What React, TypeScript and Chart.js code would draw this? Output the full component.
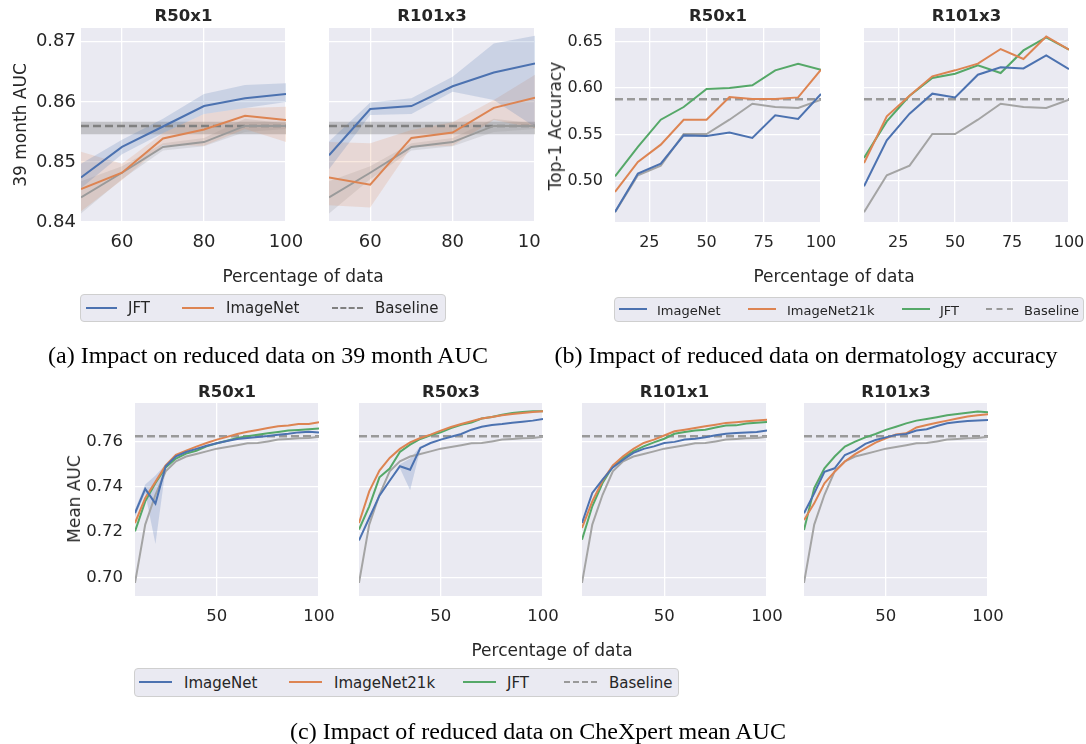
import React, { useEffect, useRef } from 'react';
import { Chart, registerables } from 'chart.js';
Chart.register(...registerables);

const BLUE = '#4c72b0';
const ORANGE = '#dd8452';
const GREEN = '#55a868';
const GRAY = '#a4a4a4';
const TXT = '#262626';
const FONT = '"DejaVu Sans", sans-serif';

// ---------- (a) 39 month AUC ----------
const aX = [50, 60, 70, 80, 90, 100];
const aXTicks = [60, 80, 100];
const aYTicks = [0.84, 0.85, 0.86, 0.87];
const aBaseline = 0.856;
const aBaselineHi = 0.8567;
const aBaselineLo = 0.8546;
const aScratch = [0.8441, 0.8482, 0.8525, 0.8533, 0.856, 0.856];
const aScratchHi = [0.8468, 0.8493, 0.8531, 0.854, 0.8572, 0.8564];
const aScratchLo = [0.8414, 0.8471, 0.8519, 0.8526, 0.855, 0.8555];
const aR50JFT = [0.8474, 0.8525, 0.8559, 0.8593, 0.8606, 0.8613];
const aR50JFTHi = [0.8497, 0.8537, 0.8572, 0.8613, 0.8628, 0.8631];
const aR50JFTLo = [0.8456, 0.8513, 0.8548, 0.858, 0.859, 0.86];
const aR50IN = [0.8455, 0.8482, 0.8539, 0.8554, 0.8577, 0.857];
const aR50INHi = [0.8517, 0.8497, 0.8548, 0.858, 0.859, 0.8592];
const aR50INLo = [0.8418, 0.847, 0.8528, 0.8527, 0.8555, 0.8533];
const aR101JFT = [0.8511, 0.8588, 0.8593, 0.8626, 0.8649, 0.8664];
const aR101JFTHi = [0.8534, 0.8599, 0.8606, 0.8642, 0.8697, 0.871];
const aR101JFTLo = [0.8488, 0.8578, 0.858, 0.8617, 0.8603, 0.8558];
const aR101IN = [0.8474, 0.8462, 0.854, 0.8549, 0.859, 0.8607];
const aR101INHi = [0.8533, 0.8531, 0.8553, 0.8566, 0.8603, 0.8645];
const aR101INLo = [0.8428, 0.8424, 0.8525, 0.8527, 0.857, 0.8556];

// ---------- (b) dermatology top-1 accuracy ----------
const bX = [10, 20, 30, 40, 50, 60, 70, 80, 90, 100];
const bXTicks = [25, 50, 75, 100];
const bYTicks = [0.5, 0.55, 0.6, 0.65];
const bBaseline = 0.588;
const bScratch = [0.466, 0.5058, 0.5162, 0.5504, 0.5504, 0.5658, 0.5831, 0.5795, 0.5784, 0.5874];
const bR50IN = [0.4662, 0.5076, 0.5183, 0.5489, 0.5482, 0.5521, 0.5461, 0.5705, 0.5666, 0.5936];
const bR50IN21k = [0.4878, 0.5202, 0.5389, 0.5658, 0.5658, 0.5903, 0.5882, 0.5882, 0.5899, 0.6198];
const bR50JFT = [0.5047, 0.5364, 0.5658, 0.5795, 0.5989, 0.6, 0.6029, 0.6191, 0.6263, 0.6198];
const bR101IN = [0.4939, 0.5435, 0.5723, 0.5939, 0.5899, 0.6144, 0.6223, 0.6212, 0.6352, 0.6205];
const bR101IN21k = [0.5191, 0.5694, 0.5917, 0.6126, 0.6191, 0.6263, 0.6421, 0.6313, 0.6557, 0.6414];
const bR101JFT = [0.5245, 0.564, 0.5917, 0.6108, 0.6155, 0.6245, 0.6162, 0.6406, 0.6546, 0.6414];

// ---------- (c) CheXpert mean AUC ----------
const cX = [10, 15, 20, 25, 30, 35, 40, 45, 50, 55, 60, 65, 70, 75, 80, 85, 90, 95, 100];
const cXTicks = [50, 100];
const cYTicks = [0.7, 0.72, 0.74, 0.76];
const cBaseline = 0.7624;
const cScratch = [0.6975, 0.7233, 0.7365, 0.7469, 0.7513, 0.7534, 0.7545, 0.7557, 0.7569, 0.7576, 0.7584, 0.7593, 0.7594, 0.7601, 0.7609, 0.7612, 0.7615, 0.7616, 0.7622];
const cR50x1IN = [0.7284, 0.7391, 0.7326, 0.7491, 0.7535, 0.7554, 0.7568, 0.7582, 0.7593, 0.7603, 0.7612, 0.7616, 0.7621, 0.7625, 0.7631, 0.7635, 0.7641, 0.7644, 0.7641];
const cR50x1INHi = [0.73, 0.741, 0.745, 0.75, 0.7535, 0.7554, 0.7568, 0.7582, 0.7593, 0.7603, 0.7612, 0.7616, 0.7621, 0.7625, 0.7631, 0.7635, 0.7641, 0.7644, 0.7641];
const cR50x1INLo = [0.7268, 0.7372, 0.7147, 0.7482, 0.7535, 0.7554, 0.7568, 0.7582, 0.7593, 0.7603, 0.7612, 0.7616, 0.7621, 0.7625, 0.7631, 0.7635, 0.7641, 0.7644, 0.7641];
const cR50x1IN21k = [0.724, 0.7351, 0.7422, 0.7495, 0.7542, 0.756, 0.7578, 0.7594, 0.7609, 0.7621, 0.7634, 0.7644, 0.7652, 0.766, 0.7668, 0.7671, 0.7678, 0.7678, 0.7686];
const cR50x1JFT = [0.7203, 0.7336, 0.7417, 0.7486, 0.7525, 0.7547, 0.756, 0.7579, 0.7593, 0.7604, 0.7616, 0.7624, 0.7631, 0.7637, 0.7643, 0.7649, 0.7652, 0.7655, 0.7658];
const cR50x3IN = [0.7163, 0.7262, 0.7361, 0.7427, 0.7491, 0.7476, 0.7572, 0.7594, 0.7609, 0.7622, 0.7634, 0.7653, 0.7666, 0.7674, 0.7678, 0.7684, 0.7688, 0.7693, 0.77];
const cR50x3INHi = [0.7163, 0.7262, 0.7361, 0.7427, 0.75, 0.7525, 0.758, 0.7594, 0.7609, 0.7622, 0.7634, 0.7653, 0.7666, 0.7674, 0.7678, 0.7684, 0.7688, 0.7693, 0.77];
const cR50x3INLo = [0.7163, 0.7262, 0.7361, 0.7427, 0.7482, 0.7385, 0.7565, 0.7594, 0.7609, 0.7622, 0.7634, 0.7653, 0.7666, 0.7674, 0.7678, 0.7684, 0.7688, 0.7693, 0.77];
const cR50x3IN21k = [0.724, 0.738, 0.7472, 0.7528, 0.7568, 0.7597, 0.7616, 0.7631, 0.7649, 0.7665, 0.7678, 0.769, 0.7702, 0.7709, 0.7717, 0.7722, 0.7727, 0.7731, 0.7734];
const cR50x3JFT = [0.7211, 0.7314, 0.7442, 0.7481, 0.7554, 0.7587, 0.7612, 0.7628, 0.7641, 0.766, 0.7675, 0.7685, 0.7702, 0.7709, 0.7719, 0.7727, 0.7731, 0.7734, 0.7734];
const cR101x1IN = [0.724, 0.7373, 0.7432, 0.7486, 0.752, 0.755, 0.7568, 0.7579, 0.7594, 0.7599, 0.7609, 0.7613, 0.7619, 0.7628, 0.7635, 0.7638, 0.764, 0.7643, 0.7649];
const cR101x1IN21k = [0.7218, 0.7336, 0.7427, 0.7495, 0.7535, 0.7568, 0.7594, 0.7609, 0.7627, 0.7646, 0.7653, 0.766, 0.7668, 0.7675, 0.7683, 0.7686, 0.769, 0.7694, 0.7697];
const cR101x1JFT = [0.7166, 0.7314, 0.7417, 0.7491, 0.7528, 0.7557, 0.7579, 0.7597, 0.7613, 0.7635, 0.7643, 0.7649, 0.7653, 0.7663, 0.7671, 0.7672, 0.768, 0.7684, 0.7687];
const cR101x3IN = [0.7283, 0.7371, 0.7467, 0.7482, 0.7541, 0.756, 0.759, 0.7607, 0.7619, 0.763, 0.7634, 0.7649, 0.7655, 0.7669, 0.7681, 0.7687, 0.7691, 0.7694, 0.7696];
const cR101x3IN21k = [0.7253, 0.7327, 0.7416, 0.7467, 0.7512, 0.7545, 0.757, 0.7596, 0.7615, 0.7632, 0.7637, 0.7663, 0.7674, 0.7684, 0.7693, 0.7702, 0.7711, 0.7717, 0.7721];
const cR101x3JFT = [0.7209, 0.7394, 0.7482, 0.7534, 0.7578, 0.76, 0.7619, 0.7634, 0.7652, 0.7666, 0.7681, 0.7693, 0.77, 0.7708, 0.7717, 0.7722, 0.7728, 0.7733, 0.773];

type Line = {
  xs: number[];
  ys: number[];
  color: string;
  width?: number;
  dash?: number[];
  hi?: number[];
  lo?: number[];
  band?: string;
};

type Spec = {
  l: number; t: number; r: number; b: number;
  xMin: number; xMax: number; yMin: number; yMax: number;
  xTicks: number[]; yTicks: number[];
  showY: boolean; fontSize: number; xPad: number; yPad: number;
  lines: Line[];
  clipRight?: number;
};

const bgPlugin = {
  id: 'axbg',
  beforeDraw(chart: any) {
    const { ctx, chartArea } = chart;
    ctx.save();
    ctx.fillStyle = '#eaeaf2';
    ctx.fillRect(chartArea.left, chartArea.top, chartArea.right - chartArea.left, chartArea.bottom - chartArea.top);
    ctx.restore();
  },
};

function pts(xs: number[], ys: number[]) {
  return xs.map((x, i) => ({ x, y: ys[i] }));
}

function Panel({ spec }: { spec: Spec }) {
  const ref = useRef<HTMLCanvasElement | null>(null);
  const YW = spec.showY ? 80 : 0;
  const PT = 12;
  const PR = 30;
  const XH = 40;
  const w = spec.r - spec.l + YW + PR;
  const h = spec.b - spec.t + PT + XH;
  useEffect(() => {
    if (!ref.current) return;
    const datasets: any[] = [];
    spec.lines.forEach((ln) => {
      datasets.push({
        data: pts(ln.xs, ln.ys),
        borderColor: ln.color,
        borderWidth: ln.width ?? 2,
        borderDash: ln.dash ?? [],
        pointRadius: 0,
        fill: false,
        tension: 0,
      });
    });
    spec.lines.forEach((ln) => {
      if (ln.hi && ln.lo) {
        const idx = datasets.length;
        datasets.push({ data: pts(ln.xs, ln.hi), borderWidth: 0, borderColor: 'rgba(0,0,0,0)', pointRadius: 0, fill: false });
        datasets.push({ data: pts(ln.xs, ln.lo), borderWidth: 0, borderColor: 'rgba(0,0,0,0)', pointRadius: 0, fill: idx, backgroundColor: ln.band });
      }
    });
    const font = { family: FONT, size: spec.fontSize };
    const zeroPad = (s: any) => { s.paddingLeft = 0; s.paddingRight = 0; s.paddingTop = 0; s.paddingBottom = 0; };
    const chart = new Chart(ref.current, {
      type: 'line',
      data: { datasets },
      options: {
        animation: false,
        responsive: false,
        devicePixelRatio: 1,
        layout: { padding: { left: 0, top: PT, right: PR, bottom: 0 } },
        plugins: { legend: { display: false }, tooltip: { enabled: false }, title: { display: false } },
        scales: {
          x: {
            type: 'linear',
            min: spec.xMin,
            max: spec.xMax,
            grid: { color: '#ffffff', lineWidth: 1.3, drawTicks: false },
            border: { display: false },
            ticks: { font, color: TXT, padding: spec.xPad, maxRotation: 0, autoSkip: false, callback: (v: any) => String(v) },
            afterBuildTicks: (s: any) => { s.ticks = spec.xTicks.map((v) => ({ value: v })); },
            afterFit: (s: any) => { s.height = XH; zeroPad(s); },
          },
          y: {
            type: 'linear',
            min: spec.yMin,
            max: spec.yMax,
            grid: { color: '#ffffff', lineWidth: 1.3, drawTicks: false },
            border: { display: false },
            ticks: { display: spec.showY, font, color: TXT, padding: spec.yPad, callback: (v: any) => Number(v).toFixed(2) },
            afterBuildTicks: (s: any) => { s.ticks = spec.yTicks.map((v) => ({ value: v })); },
            afterFit: (s: any) => { s.width = YW; zeroPad(s); },
          },
        },
      } as any,
      plugins: [bgPlugin],
    });
    return () => chart.destroy();
  }, []);
  const canvas = (
    <canvas
      ref={ref}
      width={w}
      height={h}
      style={{ position: 'absolute', left: spec.l - YW, top: spec.t - PT, width: w, height: h }}
    />
  );
  if (spec.clipRight) {
    return (
      <div style={{ position: 'absolute', left: 0, top: 0, width: spec.clipRight, height: 744, overflow: 'hidden' }}>
        {canvas}
      </div>
    );
  }
  return canvas;
}

const aBase = (xs: number[]): Line => ({ xs: [50, 100], ys: [aBaseline, aBaseline], color: '#808080', width: 2.5, dash: [8, 4], hi: [aBaselineHi, aBaselineHi], lo: [aBaselineLo, aBaselineLo], band: 'rgba(128,128,128,0.38)' });
const aScr: Line = { xs: aX, ys: aScratch, color: '#9a9a9a', hi: aScratchHi, lo: aScratchLo, band: 'rgba(150,150,150,0.22)' };

const aCommon = { t: 28, b: 222, xMin: 50, xMax: 100, yMin: 0.84, yMax: 0.8723, xTicks: aXTicks, yTicks: aYTicks, fontSize: 18, xPad: 10, yPad: 5 };
const bCommon = { t: 28, b: 222, xMin: 10, xMax: 100, yMin: 0.4554, yMax: 0.6648, xTicks: bXTicks, yTicks: bYTicks, fontSize: 16, xPad: 11, yPad: 12 };
const cCommon = { t: 403, b: 596, xMin: 10, xMax: 100, yMin: 0.6917, yMax: 0.7771, xTicks: cXTicks, yTicks: cYTicks, fontSize: 16.5, xPad: 11, yPad: 12 };

const bBase: Line = { xs: [10, 100], ys: [bBaseline, bBaseline], color: '#999999', width: 2.5, dash: [8, 4] };
const cBase: Line = { xs: [10, 100], ys: [cBaseline, cBaseline], color: '#999999', width: 2.5, dash: [8, 4] };

const specs: Spec[] = [
  {
    ...aCommon, l: 81, r: 286, showY: true,
    lines: [
      { xs: aX, ys: aR50JFT, color: BLUE, hi: aR50JFTHi, lo: aR50JFTLo, band: 'rgba(76,114,176,0.2)' },
      { xs: aX, ys: aR50IN, color: ORANGE, hi: aR50INHi, lo: aR50INLo, band: 'rgba(221,132,82,0.18)' },
      aScr,
      aBase(aX),
    ],
  },
  {
    ...aCommon, l: 329, r: 535, showY: false, clipRight: 541,
    lines: [
      { xs: aX, ys: aR101JFT, color: BLUE, hi: aR101JFTHi, lo: aR101JFTLo, band: 'rgba(76,114,176,0.2)' },
      { xs: aX, ys: aR101IN, color: ORANGE, hi: aR101INHi, lo: aR101INLo, band: 'rgba(221,132,82,0.18)' },
      aScr,
      aBase(aX),
    ],
  },
  {
    ...bCommon, l: 615, r: 821, showY: true,
    lines: [
      { xs: bX, ys: bR50IN, color: BLUE },
      { xs: bX, ys: bR50IN21k, color: ORANGE },
      { xs: bX, ys: bR50JFT, color: GREEN },
      { xs: bX, ys: bScratch, color: GRAY },
      bBase,
    ],
  },
  {
    ...bCommon, l: 864, r: 1069, showY: false,
    lines: [
      { xs: bX, ys: bR101IN, color: BLUE },
      { xs: bX, ys: bR101IN21k, color: ORANGE },
      { xs: bX, ys: bR101JFT, color: GREEN },
      { xs: bX, ys: bScratch, color: GRAY },
      bBase,
    ],
  },
  {
    ...cCommon, l: 135, r: 319, showY: true,
    lines: [
      { xs: cX, ys: cR50x1IN, color: BLUE, hi: cR50x1INHi, lo: cR50x1INLo, band: 'rgba(76,114,176,0.22)' },
      { xs: cX, ys: cR50x1IN21k, color: ORANGE },
      { xs: cX, ys: cR50x1JFT, color: GREEN },
      { xs: cX, ys: cScratch, color: GRAY },
      cBase,
    ],
  },
  {
    ...cCommon, l: 359, r: 543, showY: false,
    lines: [
      { xs: cX, ys: cR50x3IN, color: BLUE, hi: cR50x3INHi, lo: cR50x3INLo, band: 'rgba(76,114,176,0.22)' },
      { xs: cX, ys: cR50x3IN21k, color: ORANGE },
      { xs: cX, ys: cR50x3JFT, color: GREEN },
      { xs: cX, ys: cScratch, color: GRAY },
      cBase,
    ],
  },
  {
    ...cCommon, l: 582, r: 767, showY: false,
    lines: [
      { xs: cX, ys: cR101x1IN, color: BLUE },
      { xs: cX, ys: cR101x1IN21k, color: ORANGE },
      { xs: cX, ys: cR101x1JFT, color: GREEN },
      { xs: cX, ys: cScratch, color: GRAY },
      cBase,
    ],
  },
  {
    ...cCommon, l: 804, r: 988, showY: false,
    lines: [
      { xs: cX, ys: cR101x3IN, color: BLUE },
      { xs: cX, ys: cR101x3IN21k, color: ORANGE },
      { xs: cX, ys: cR101x3JFT, color: GREEN },
      { xs: cX, ys: cScratch, color: GRAY },
      cBase,
    ],
  },
];

const titles: [string, number, number][] = [
  ['R50x1', 183.5, 15], ['R101x3', 432, 15],
  ['R50x1', 718, 15], ['R101x3', 966.5, 15],
  ['R50x1', 227, 391], ['R50x3', 451, 391], ['R101x1', 674.5, 391], ['R101x3', 896, 391],
];

function Centered({ x, y, children, style }: any) {
  return (
    <div style={{ position: 'absolute', left: x, top: y, transform: 'translate(-50%, -50%)', whiteSpace: 'nowrap', ...style }}>
      {children}
    </div>
  );
}

type LegItem = { label: string; color: string; dashed?: boolean; x0: number; x1: number; tx: number };

function Legend({ l, t, r, b, fontSize, items }: { l: number; t: number; r: number; b: number; fontSize: number; items: LegItem[] }) {
  const cy = (t + b) / 2;
  return (
    <>
      <div style={{ position: 'absolute', left: l, top: t, width: r - l, height: b - t, boxSizing: 'border-box', background: '#eaeaf2', border: '1px solid #cfcfcf', borderRadius: 4 }} />
      {items.map((it, i) => (
        <React.Fragment key={i}>
          <div style={{ position: 'absolute', left: it.x0, top: cy - 1.25, width: it.x1 - it.x0, height: 0, borderTop: `2.5px ${it.dashed ? 'dashed' : 'solid'} ${it.color}` }} />
          <div style={{ position: 'absolute', left: it.tx, top: cy, transform: 'translateY(-50%)', fontFamily: FONT, fontSize, color: TXT, whiteSpace: 'nowrap' }}>{it.label}</div>
        </React.Fragment>
      ))}
    </>
  );
}

export default function App() {
  useEffect(() => {
    document.body.style.margin = '0';
  }, []);
  const axisLabel = { fontFamily: FONT, fontSize: 17, color: TXT };
  const caption = { fontFamily: '"Liberation Serif", "Times New Roman", serif', fontSize: 24, color: '#000' };
  return (
    <div style={{ position: 'absolute', left: 0, top: 0, width: 1086, height: 744, background: '#ffffff', overflow: 'hidden' }}>
      {specs.map((s, i) => <Panel key={i} spec={s} />)}
      {titles.map(([t, x, y], i) => (
        <Centered key={i} x={x} y={y} style={{ fontFamily: FONT, fontSize: 16.5, fontWeight: 'bold', color: TXT }}>{t}</Centered>
      ))}
      <Centered x={20} y={125} style={{ ...axisLabel, transform: 'translate(-50%, -50%) rotate(-90deg)' }}>39 month AUC</Centered>
      <Centered x={555} y={126} style={{ ...axisLabel, transform: 'translate(-50%, -50%) rotate(-90deg)' }}>Top-1 Accuracy</Centered>
      <Centered x={74} y={499} style={{ ...axisLabel, transform: 'translate(-50%, -50%) rotate(-90deg)' }}>Mean AUC</Centered>
      <Centered x={303} y={276} style={axisLabel}>Percentage of data</Centered>
      <Centered x={834} y={276} style={axisLabel}>Percentage of data</Centered>
      <Centered x={552} y={650} style={axisLabel}>Percentage of data</Centered>
      <Legend l={80} t={294} r={446} b={322} fontSize={15} items={[
        { label: 'JFT', color: BLUE, x0: 86, x1: 117, tx: 128 },
        { label: 'ImageNet', color: ORANGE, x0: 182, x1: 214, tx: 226 },
        { label: 'Baseline', color: '#808080', dashed: true, x0: 332, x1: 363, tx: 375 },
      ]} />
      <Legend l={614} t={297} r={1084} b={322} fontSize={13} items={[
        { label: 'ImageNet', color: BLUE, x0: 619, x1: 647, tx: 657 },
        { label: 'ImageNet21k', color: ORANGE, x0: 748, x1: 776, tx: 787 },
        { label: 'JFT', color: GREEN, x0: 902, x1: 930, tx: 940 },
        { label: 'Baseline', color: '#999999', dashed: true, x0: 986, x1: 1013, tx: 1024 },
      ]} />
      <Legend l={134} t={668} r={679} b={697} fontSize={15} items={[
        { label: 'ImageNet', color: BLUE, x0: 139, x1: 172, tx: 184 },
        { label: 'ImageNet21k', color: ORANGE, x0: 289, x1: 322, tx: 334 },
        { label: 'JFT', color: GREEN, x0: 463, x1: 496, tx: 507 },
        { label: 'Baseline', color: '#999999', dashed: true, x0: 564, x1: 597, tx: 609 },
      ]} />
      <Centered x={268} y={355} style={caption}>(a) Impact on reduced data on 39 month AUC</Centered>
      <Centered x={806} y={355} style={caption}>(b) Impact of reduced data on dermatology accuracy</Centered>
      <Centered x={538} y={731} style={caption}>(c) Impact of reduced data on CheXpert mean AUC</Centered>
    </div>
  );
}
